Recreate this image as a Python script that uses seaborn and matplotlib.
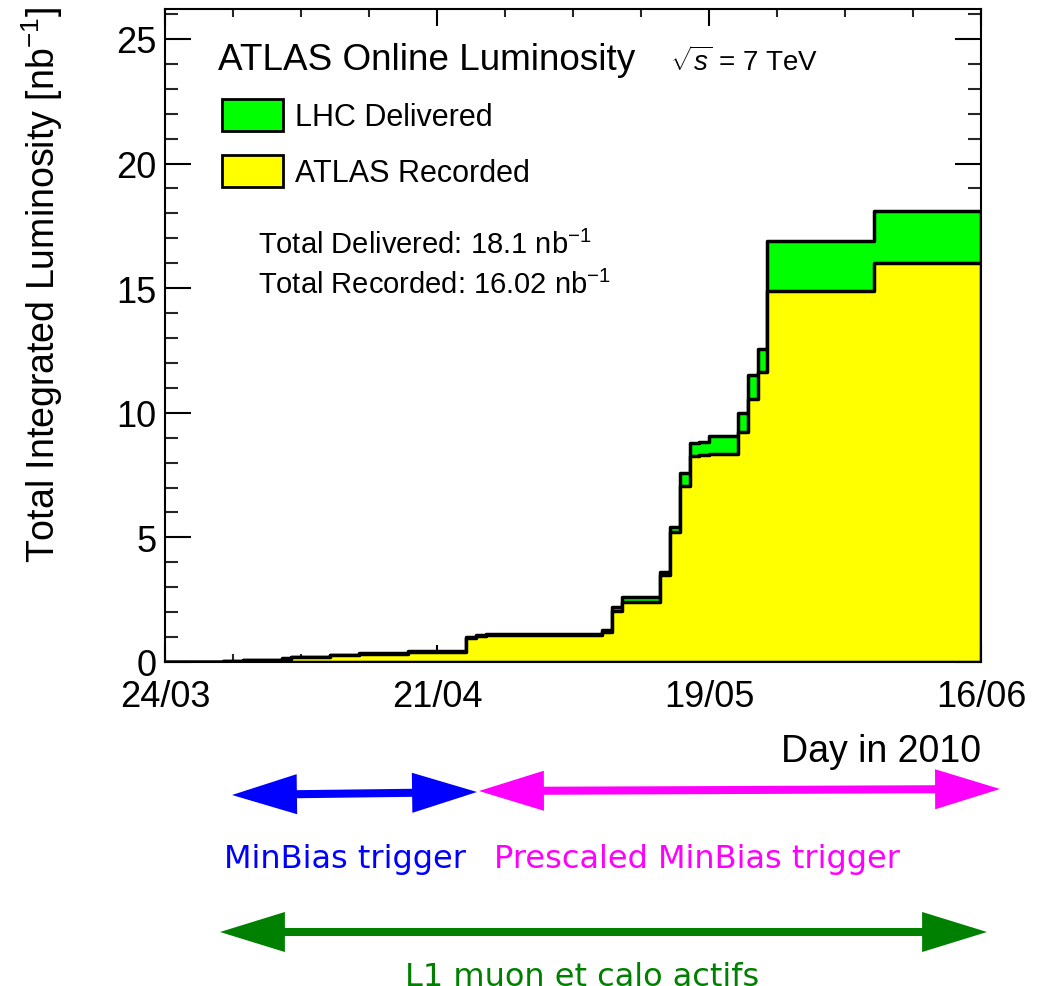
import numpy as np
import pandas as pd
import seaborn as sns
import matplotlib.pyplot as plt
from matplotlib.patches import Patch, FancyArrowPatch
from matplotlib.ticker import MultipleLocator, FixedLocator, FixedFormatter

sns.set_theme(style="ticks")
plt.rcParams['font.family'] = ['Liberation Sans', 'DejaVu Sans']
plt.rcParams['mathtext.fontset'] = 'custom'
plt.rcParams['mathtext.rm'] = 'Liberation Sans'
plt.rcParams['mathtext.it'] = 'Liberation Sans:italic'
plt.rcParams['text.color'] = 'black'
plt.rcParams['axes.labelcolor'] = 'black'

# step edges, in days since 24/03/2010
day_edges = [0, 6, 8, 12, 13, 17, 20, 25, 31, 32, 33, 45, 46, 47, 51, 52, 53,
             54, 55, 56, 59, 60, 61, 62, 73, 84]
# cumulative luminosity [nb^-1] on each step
delivered = [0, 0.04, 0.08, 0.15, 0.21, 0.28, 0.36, 0.44, 0.99, 1.08, 1.13, 1.29,
             2.2, 2.6, 3.6, 5.42, 7.6, 8.8, 8.84, 9.08, 10.0, 11.5, 12.54, 16.88, 18.1]
recorded = [0, 0.03, 0.07, 0.14, 0.2, 0.27, 0.34, 0.42, 0.96, 1.05, 1.1, 1.22,
            2.05, 2.4, 3.5, 5.22, 7.07, 8.28, 8.32, 8.36, 9.24, 10.57, 11.65, 14.87, 16.02]
date_ticks = [0, 28, 56, 84]
date_labels = ['24/03', '21/04', '19/05', '16/06']

lumi = pd.DataFrame({'day': day_edges[:-1], 'delivered': delivered, 'recorded': recorded})

W, H = 1047, 987
fig = plt.figure(figsize=(W / 100, H / 100), dpi=100)
ax = fig.add_axes([165 / W, 1 - 663 / H, 816 / W, 653 / H])

sns.histplot(data=lumi, x='day', weights='delivered', bins=day_edges, element='step',
             fill=True, color='#00ff00', alpha=1, edgecolor='black', linewidth=2.5, ax=ax)
sns.histplot(data=lumi, x='day', weights='recorded', bins=day_edges, element='step',
             fill=True, color='#ffff00', alpha=1, edgecolor='black', linewidth=2.5, ax=ax)

ax.set_xlim(0, 84)
ax.set_ylim(0, 26.2)
ax.xaxis.set_major_locator(FixedLocator(date_ticks))
ax.xaxis.set_major_formatter(FixedFormatter(date_labels))
ax.xaxis.set_minor_locator(MultipleLocator(7))
ax.yaxis.set_major_locator(MultipleLocator(5))
ax.yaxis.set_minor_locator(MultipleLocator(1))
ax.tick_params(axis='x', which='major', direction='in', length=12, width=1.5,
               top=True, pad=12, labelsize=26, colors='black')
ax.tick_params(axis='x', which='minor', direction='in', length=6, width=1.5, top=True)
ax.tick_params(axis='y', which='major', direction='in', length=19, width=1.5,
               right=True, pad=6, labelsize=26, colors='black')
ax.tick_params(axis='y', which='minor', direction='in', length=9.5, width=1.5, right=True)
for s in ax.spines.values():
    s.set_linewidth(1.5)
    s.set_color('black')
    s.set_zorder(5)

ax.set_ylabel('Total Integrated Luminosity [nb$^{-1}$]', fontsize=27, loc='top')
ax.yaxis.set_label_coords(-0.123, 1.005)
ax.set_xlabel('Day in 2010', fontsize=27, loc='right')
ax.xaxis.set_label_coords(1.0, -0.108)


def px(x, y):
    return x / W, 1 - y / H


fig.text(*px(218, 60), 'ATLAS Online Luminosity', fontsize=26.6, va='center')
fig.text(*px(670, 62), r'$\sqrt{s}$ = 7 TeV', fontsize=20, va='center')
fig.text(*px(258, 245), 'Total Delivered: 18.1 nb$^{-1}$', fontsize=21, va='center')
fig.text(*px(258, 285), 'Total Recorded: 16.02 nb$^{-1}$', fontsize=21, va='center')

handles = [Patch(facecolor='#00ff00', edgecolor='black', linewidth=2),
           Patch(facecolor='#ffff00', edgecolor='black', linewidth=2)]
ax.legend(handles, ['LHC Delivered', 'ATLAS Recorded'], loc='upper left',
          bbox_to_anchor=((222 - 165) / 816, (663 - 100) / 653), frameon=False,
          fontsize=22, handlelength=2.0, handleheight=1.24, labelspacing=0.73,
          handletextpad=0.4, borderaxespad=0, borderpad=0)

# trigger periods under the time axis
arrows = [((232, 796), (477, 793), '#0000ff'),
          ((479, 792), (1000, 790), '#ff00ff'),
          ((220, 933), (987, 933), '#008000')]
for a, b, c in arrows:
    arr = FancyArrowPatch(px(*a), px(*b), transform=fig.transFigure,
                          arrowstyle='<|-|>,head_length=34,head_width=10.5',
                          mutation_scale=1, lw=5.8, color=c, shrinkA=0, shrinkB=0,
                          joinstyle='miter', capstyle='butt')
    fig.add_artist(arr)

fig.text(*px(224, 868), 'MinBias trigger', fontsize=23, color='#0000ff',
         family='DejaVu Sans', va='baseline')
fig.text(*px(494, 868), 'Prescaled MinBias trigger', fontsize=23, color='#ff00ff',
         family='DejaVu Sans', va='baseline')
fig.text(*px(405, 986), 'L1 muon et calo actifs', fontsize=23, color='#008000',
         family='DejaVu Sans', va='baseline')

fig.savefig('out.png', dpi=100)
